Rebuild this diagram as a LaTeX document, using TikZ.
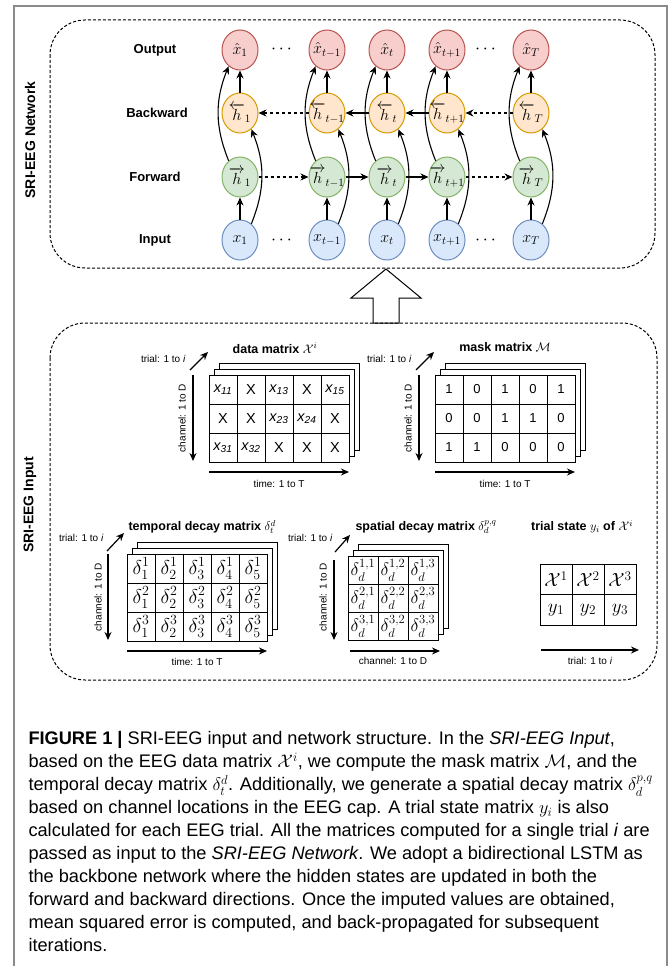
\RequirePackage{fix-cm}
\documentclass[tikz,border=0pt]{standalone}
\usepackage{amsmath,amssymb}
\usepackage{fontspec}
\setmainfont{Liberation Sans}
\usepackage{tikz}
\usetikzlibrary{arrows.meta,positioning,shapes.geometric}

\definecolor{outfill}{HTML}{F8CECC}
\definecolor{outdraw}{HTML}{B85450}
\definecolor{bwfill}{HTML}{FFE6CC}
\definecolor{bwdraw}{HTML}{D79B00}
\definecolor{fwfill}{HTML}{D5E8D4}
\definecolor{fwdraw}{HTML}{82B366}
\definecolor{infill}{HTML}{DAE8FC}
\definecolor{indraw}{HTML}{6C8EBF}
\definecolor{framegray}{HTML}{8A8A8A}

\newcommand{\xs}[1]{\textit{x\textsubscript{#1}}}
% label that does not widen the ellipse
\newcommand{\inlbl}[1]{\makebox[0pt]{$#1$}}
% two sheets behind the front one (width, height)
\newcommand{\sheets}[2]{%
  \draw[fill=white] (10,12) rectangle ++(#1,-#2);
  \draw[fill=white] (5,6) rectangle ++(#1,-#2);}

\tikzset{
  lstm/.style = {ellipse, draw, line width=1pt, minimum width=36pt, minimum height=40pt,
                 inner sep=0pt, font=\fontsize{16}{16}\selectfont},
  outnode/.style = {lstm, fill=outfill, draw=outdraw},
  bwnode/.style = {lstm, fill=bwfill, draw=bwdraw},
  fwnode/.style = {lstm, fill=fwfill, draw=fwdraw},
  innode/.style = {lstm, fill=infill, draw=indraw},
  rowlabel/.style = {font=\bfseries\fontsize{13}{13}\selectfont},
  dotsnode/.style = {font=\fontsize{18}{18}\selectfont},
  arr/.style = {-{Stealth[length=8pt,width=7pt]}, line width=1.1pt},
  cell/.style = {draw, fill=white, inner sep=0pt, minimum width=28pt, minimum height=29pt},
  mtitle/.style = {inner sep=1pt, font=\bfseries\fontsize{12.5}{12.5}\selectfont},
  axlabel/.style = {inner sep=1pt, font=\fontsize{10}{10}\selectfont},
  axarr/.style = {-{Stealth[length=8pt,width=7pt]}, line width=1.2pt},
  dashbox/.style = {dash pattern=on 3pt off 2pt, line width=1pt, rounded corners=35pt},
  sidelabel/.style = {rotate=90, font=\bfseries\fontsize{14}{14}\selectfont}
}

\begin{document}
\begin{tikzpicture}
  [x = 1pt, y = 1pt, line width = 1pt]
  \useasboundingbox (0,0) rectangle (670,-966);
  \draw[framegray, line width=1.5pt] (14,-966) -- (14,-6) -- (667,-6) -- (667,-966);

  % network part
  \draw[dashbox] (50,-20) rectangle (655,-268);
  \node[sidelabel] (netlab) at (30,-140) {SRI-EEG Network};
  \node[rowlabel] (outlab) at (155,-50) {Output};
  \node[rowlabel] (bwlab) at (157,-113) {Backward};
  \node[rowlabel] (fwlab) at (155,-177) {Forward};
  \node[rowlabel] (inlab) at (155,-240) {Input};
  \foreach \c/\x/\s in {1/240/1, 2/327/{t-1}, 3/387/t, 4/447/{t+1}, 5/531/T}{
    \node[outnode] (o\c) at (\x,-50) {\inlbl{\hat{x}_{\s}}};
    \node[bwnode] (b\c) at (\x,-113) {\inlbl{\overleftarrow{h}_{\s}}};
    \node[fwnode] (f\c) at (\x,-177) {\inlbl{\overrightarrow{h}_{\s}}};
    \node[innode] (i\c) at (\x,-240) {\inlbl{x_{\s}}};
  }
  \node[dotsnode] (odots1) at (283,-50) {$\cdots$};
  \node[dotsnode] (odots2) at (487,-50) {$\cdots$};
  \node[dotsnode] (idots1) at (283,-240) {$\cdots$};
  \node[dotsnode] (idots2) at (487,-240) {$\cdots$};
  \foreach \c in {1,...,5}{
    \draw[arr] (i\c) -- (f\c);
    \draw[arr] (b\c) -- (o\c);
    \draw[arr] (f\c.125) to[out=112,in=248] (o\c.235);
    \draw[arr] (i\c.55) to[out=68,in=-68] (b\c.-55);
  }
  \draw[arr, dashed] (f1) -- (f2);
  \draw[arr] (f2) -- (f3);
  \draw[arr] (f3) -- (f4);
  \draw[arr, dashed] (f4) -- (f5);
  \draw[arr, dashed] (b5) -- (b4);
  \draw[arr] (b4) -- (b3);
  \draw[arr] (b3) -- (b2);
  \draw[arr, dashed] (b2) -- (b1);

  % big arrow
  \draw[fill=white] (373,-323) -- (373,-298) -- (351,-298) -- (386,-269)
    -- (421,-298) -- (399,-298) -- (399,-323) -- cycle;

  % input part
  \draw[dashbox] (50,-323) rectangle (657,-680);
  \node[sidelabel] (inplab) at (30,-505) {SRI-EEG Input};

  % data matrix
  \begin{scope}[shift={(209,-375)}]
    \sheets{140}{87}
    \foreach \row [count=\r] in {{\xs{11},X,\xs{13},X,\xs{15}},{X,X,\xs{23},\xs{24},X},{\xs{31},\xs{32},X,X,X}}
      \foreach \v [count=\c] in \row
        \node[cell, font=\fontsize{14.5}{14.5}\selectfont] (dat\r\c) at ({28*\c-14},{-29*\r+14.5}) {\v};
    \node[mtitle] (dattitle) at (66,27) {data matrix $\mathcal{X}^i$};
    \coordinate (dattr0) at (-19,5);
    \coordinate (dattr1) at (-1,23);
    \draw[axarr] (dattr0) -- (dattr1);
    \node[axlabel, anchor=east] (dattrl) at (-22,16) {trial: 1 to \textit{i}};
    \coordinate (datch0) at (-16,0);
    \coordinate (datch1) at (-16,-86);
    \draw[axarr] (datch0) -- (datch1);
    \node[axlabel, rotate=90] (datchl) at (-27,-43) {channel: 1 to D};
    \coordinate (datti0) at (0,-97);
    \coordinate (datti1) at (140,-97);
    \draw[axarr] (datti0) -- (datti1);
    \node[axlabel] (dattil) at (70,-109) {time: 1 to T};
  \end{scope}

  % mask matrix
  \begin{scope}[shift={(435,-375)}]
    \sheets{140}{87}
    \foreach \row [count=\r] in {{1,0,1,0,1},{0,0,1,1,0},{1,1,0,0,0}}
      \foreach \v [count=\c] in \row
        \node[cell, font=\fontsize{13}{13}\selectfont] (msk\r\c) at ({28*\c-14},{-29*\r+14.5}) {\v};
    \node[mtitle] (msktitle) at (70,28) {mask matrix $\mathcal{M}$};
    \coordinate (msktr0) at (-19,5);
    \coordinate (msktr1) at (-1,23);
    \draw[axarr] (msktr0) -- (msktr1);
    \node[axlabel, anchor=east] (msktrl) at (-22,16) {trial: 1 to \textit{i}};
    \coordinate (mskch0) at (-16,0);
    \coordinate (mskch1) at (-16,-86);
    \draw[axarr] (mskch0) -- (mskch1);
    \node[axlabel, rotate=90] (mskchl) at (-27,-43) {channel: 1 to D};
    \coordinate (mskti0) at (0,-97);
    \coordinate (mskti1) at (140,-97);
    \draw[axarr] (mskti0) -- (mskti1);
    \node[axlabel] (msktil) at (70,-109) {time: 1 to T};
  \end{scope}

  % temporal decay matrix
  \begin{scope}[shift={(127,-554)}]
    \sheets{140}{87}
    \foreach \r in {1,2,3}
      \foreach \c in {1,...,5}
        \node[cell, font=\fontsize{20}{20}\selectfont] (tmp\r\c) at ({28*\c-14},{-29*\r+14.5}) {$\delta^{\r}_{\c}$};
    \node[mtitle, anchor=west] (tmptitle) at (0,27) {temporal decay matrix $\delta_t^d$};
    \coordinate (tmptr0) at (-20,3);
    \coordinate (tmptr1) at (-3,21);
    \draw[axarr] (tmptr0) -- (tmptr1);
    \node[axlabel, anchor=east] (tmptrl) at (-22,16) {trial: 1 to \textit{i}};
    \coordinate (tmpch0) at (-19,0);
    \coordinate (tmpch1) at (-19,-86);
    \draw[axarr] (tmpch0) -- (tmpch1);
    \node[axlabel, rotate=90] (tmpchl) at (-29,-43) {channel: 1 to D};
    \coordinate (tmpti0) at (0,-97);
    \coordinate (tmpti1) at (140,-97);
    \draw[axarr] (tmpti0) -- (tmpti1);
    \node[axlabel] (tmptil) at (70,-108) {time: 1 to T};
  \end{scope}

  % spatial decay matrix
  \begin{scope}[shift={(348,-556)}]
    \sheets{90}{84}
    \foreach \r in {1,2,3}
      \foreach \c in {1,2,3}
        \node[cell, minimum width=30pt, minimum height=28pt, font=\fontsize{18}{18}\selectfont]
          (spa\r\c) at ({30*\c-15},{-28*\r+14}) {$\delta^{\r,\c}_{d}$};
    \node[mtitle, anchor=west] (spatitle) at (6,29) {spatial decay matrix $\delta_d^{p,q}$};
    \coordinate (spatr0) at (-13,4);
    \coordinate (spatr1) at (2,21);
    \draw[axarr] (spatr0) -- (spatr1);
    \node[axlabel, anchor=east] (spatrl) at (-14,18) {trial: 1 to \textit{i}};
    \coordinate (spach0) at (-14,-4);
    \coordinate (spach1) at (-14,-84);
    \draw[axarr] (spach0) -- (spach1);
    \node[axlabel, rotate=90] (spachl) at (-25,-41) {channel: 1 to D};
    \coordinate (spati0) at (2,-95);
    \coordinate (spati1) at (92,-95);
    \draw[axarr] (spati0) -- (spati1);
    \node[axlabel] (spatil) at (45,-105) {channel: 1 to D};
  \end{scope}

  % trial state
  \begin{scope}[shift={(540,-564)}]
    \foreach \c in {1,2,3}{
      \node[cell, minimum width=32pt, minimum height=30.5pt, font=\fontsize{19}{19}\selectfont]
        (sta1\c) at ({32*\c-16},-15.25) {$\mathcal{X}^{\c}$};
      \node[cell, minimum width=32pt, minimum height=30.5pt, font=\fontsize{19}{19}\selectfont]
        (sta2\c) at ({32*\c-16},-45.75) {$y_{\c}$};
    }
    \node[mtitle] (statitle) at (42,37) {trial state $y_i$ of $\mathcal{X}^i$};
    \coordinate (stati0) at (1,-86);
    \coordinate (stati1) at (99,-86);
    \draw[axarr] (stati0) -- (stati1);
    \node[axlabel] (statil) at (50,-97) {trial: 1 to \textit{i}};
  \end{scope}

  % caption
  \node[anchor=north west, inner sep=0pt, align=left, font=\fontsize{18.2}{23}\selectfont] (caption) at (28,-731)
    {\textbf{FIGURE 1 |} SRI-EEG input and network structure. In the \textit{SRI-EEG Input},\\
     based on the EEG data matrix $\mathcal{X}^i$, we compute the mask matrix $\mathcal{M}$, and the\\
     temporal decay matrix $\delta_t^d$. Additionally, we generate a spatial decay matrix $\delta_d^{p,q}$\\
     based on channel locations in the EEG cap. A trial state matrix $y_i$ is also\\
     calculated for each EEG trial. All the matrices computed for a single trial \textit{i} are\\
     passed as input to the \textit{SRI-EEG Network}. We adopt a bidirectional LSTM as\\
     the backbone network where the hidden states are updated in both the\\
     forward and backward directions. Once the imputed values are obtained,\\
     mean squared error is computed, and back-propagated for subsequent\\
     iterations.};
\end{tikzpicture}
\end{document}
